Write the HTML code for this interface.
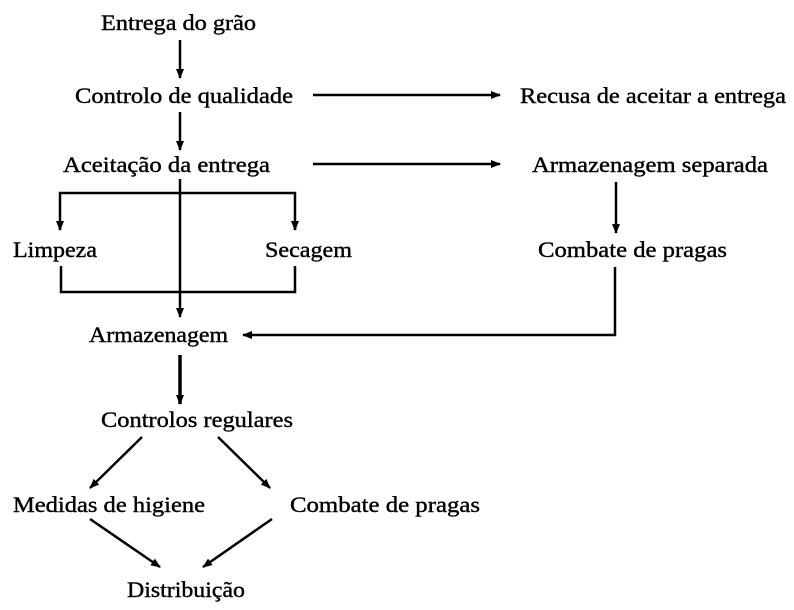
<!DOCTYPE html>
<html><head><meta charset="utf-8"><style>
html,body{margin:0;padding:0;background:#fff;}
svg{display:block;}
text{font-family:"Liberation Serif","Times New Roman",serif;font-size:22px;fill:#000;stroke:#000;stroke-width:0.4;}
</style></head><body>
<svg width="794" height="610" viewBox="0 0 794 610" xmlns="http://www.w3.org/2000/svg">
<defs>
<marker id="a" markerWidth="10" markerHeight="8" refX="9" refY="4" orient="auto" markerUnits="userSpaceOnUse">
<path d="M0,0 L10,4 L0,8 Z" fill="#000"/></marker>
</defs>
<g stroke="#000" stroke-width="2.5" fill="none">
<line x1="180" y1="40" x2="180" y2="78" marker-end="url(#a)"/>
<line x1="180" y1="112" x2="180" y2="150" marker-end="url(#a)"/>
<line x1="180" y1="179" x2="180" y2="317" marker-end="url(#a)"/>
<polyline points="60,230 60,193 295,193 295,230"/>
<line x1="60" y1="222" x2="60" y2="230" marker-end="url(#a)"/>
<line x1="295" y1="222" x2="295" y2="230" marker-end="url(#a)"/>
<polyline points="61,266 61,292 295,292 295,266"/>
<line x1="313" y1="95" x2="500" y2="95" marker-end="url(#a)"/>
<line x1="313" y1="164" x2="500" y2="164" marker-end="url(#a)"/>
<line x1="616" y1="182" x2="616" y2="233" marker-end="url(#a)"/>
<polyline points="615,267 615,335 243,335" marker-end="url(#a)"/>
<line x1="180" y1="355" x2="180" y2="404" stroke-width="3.5" marker-end="url(#a)"/>
<line x1="142" y1="437" x2="90" y2="488" marker-end="url(#a)"/>
<line x1="218" y1="437" x2="270" y2="488" marker-end="url(#a)"/>
<line x1="90" y1="519" x2="160" y2="567" marker-end="url(#a)"/>
<line x1="272" y1="519" x2="203" y2="567" marker-end="url(#a)"/>
</g>
<text x="101" y="30" textLength="155" lengthAdjust="spacingAndGlyphs">Entrega do grão</text>
<text x="75" y="103" textLength="218" lengthAdjust="spacingAndGlyphs">Controlo de qualidade</text>
<text x="520" y="103" textLength="266" lengthAdjust="spacingAndGlyphs">Recusa de aceitar a entrega</text>
<text x="63" y="172" textLength="207" lengthAdjust="spacingAndGlyphs">Aceitação da entrega</text>
<text x="532" y="172" textLength="236" lengthAdjust="spacingAndGlyphs">Armazenagem separada</text>
<text x="13" y="257" textLength="84" lengthAdjust="spacingAndGlyphs">Limpeza</text>
<text x="265" y="257" textLength="87" lengthAdjust="spacingAndGlyphs">Secagem</text>
<text x="538" y="257" textLength="189" lengthAdjust="spacingAndGlyphs">Combate de pragas</text>
<text x="89" y="342" textLength="139" lengthAdjust="spacingAndGlyphs">Armazenagem</text>
<text x="101" y="427" textLength="192" lengthAdjust="spacingAndGlyphs">Controlos regulares</text>
<text x="13" y="512" textLength="192" lengthAdjust="spacingAndGlyphs">Medidas de higiene</text>
<text x="290" y="512" textLength="190" lengthAdjust="spacingAndGlyphs">Combate de pragas</text>
<text x="127" y="597" textLength="118" lengthAdjust="spacingAndGlyphs">Distribuição</text>
</svg>
</body></html>
